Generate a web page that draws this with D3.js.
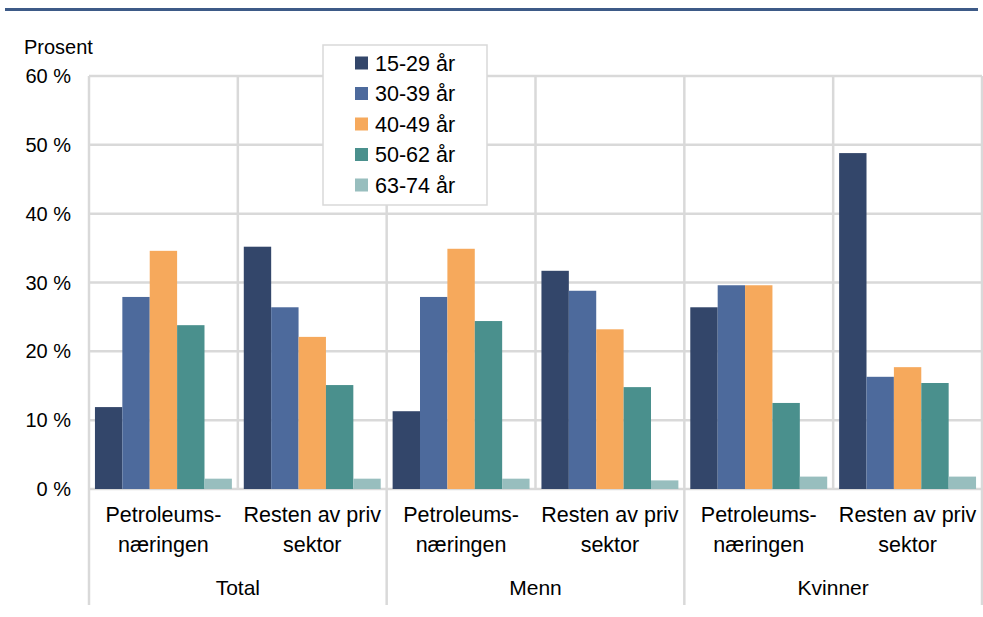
<!DOCTYPE html>
<html>
<head>
<meta charset="utf-8">
<script src="https://cdn.jsdelivr.net/npm/d3@7"></script>
<style>
  html, body { margin: 0; padding: 0; background: #fff; }
  svg { display: block; font-family: "Liberation Sans", Arial, sans-serif; }
</style>
</head>
<body>
<svg id="chart" width="983" height="617"></svg>
<script>
// ---- data ----
const groups = ["Total", "Menn", "Kvinner"];
const subCategories = ["Petroleums-næringen", "Resten av priv sektor"];
const subLabelLines = [["Petroleums-", "næringen"], ["Resten av priv", "sektor"]];
const series = ["15-29 år", "30-39 år", "40-49 år", "50-62 år", "63-74 år"];
const colors = ["#33466a", "#4d6a9c", "#f6a95c", "#4a908d", "#98bebe"];
// values per series, in category order: Total-Petro, Total-Resten, Menn-Petro, Menn-Resten, Kvinner-Petro, Kvinner-Resten
const v15_29 = [11.9, 35.2, 11.3, 31.7, 26.4, 48.8];
const v30_39 = [27.9, 26.4, 27.9, 28.8, 29.6, 16.3];
const v40_49 = [34.6, 22.1, 34.9, 23.2, 29.6, 17.7];
const v50_62 = [23.8, 15.1, 24.4, 14.8, 12.5, 15.4];
const v63_74 = [1.5, 1.5, 1.5, 1.25, 1.8, 1.8];
const yTicks = [0, 10, 20, 30, 40, 50, 60];
const yLabel = "Prosent";

(function () {
const valuesBySeries = [v15_29, v30_39, v40_49, v50_62, v63_74];
const categories = [];
groups.forEach(g => subCategories.forEach(s => categories.push(g + "|" + s)));

// ---- layout ----
const svg = d3.select("#chart");
const pLeft = 89, pRight = 982, pTop = 76, pBottom = 489;
const gridColor = "#d9d9d9";

svg.append("rect").attr("x", 5).attr("y", 8).attr("width", 973).attr("height", 3).attr("fill", "#3d5a87");

const x0 = d3.scaleBand().domain(categories).range([pLeft, pRight]).paddingInner(0).paddingOuter(0);
const bw = x0.bandwidth();
const x1 = d3.scaleBand().domain(series).range([bw * 0.04, bw * 0.96]).padding(0);
const y = d3.scaleLinear().domain([0, 60]).range([pBottom, pTop]);

// horizontal gridlines
svg.append("g").selectAll("line").data(yTicks).join("line")
  .attr("x1", pLeft).attr("x2", pRight)
  .attr("y1", d => y(d)).attr("y2", d => y(d))
  .attr("stroke", gridColor).attr("stroke-width", 2.5);

// vertical gridlines at category boundaries
const boundaries = categories.map(c => x0(c)).concat([pRight]);
svg.append("g").selectAll("line").data(boundaries).join("line")
  .attr("x1", d => d).attr("x2", d => d)
  .attr("y1", pTop).attr("y2", (d, i) => (i % 2 === 0) ? 605 : pBottom)
  .attr("stroke", gridColor).attr("stroke-width", 2.5);

// bars
const barG = svg.append("g");
series.forEach((s, si) => {
  barG.append("g").selectAll("rect").data(valuesBySeries[si]).join("rect")
    .attr("x", (d, i) => x0(categories[i]) + x1(s))
    .attr("width", x1.bandwidth())
    .attr("y", d => y(d))
    .attr("height", d => y(0) - y(d))
    .attr("fill", colors[si]);
});

// y axis labels
svg.append("g").selectAll("text").data(yTicks).join("text")
  .attr("x", 71).attr("y", d => y(d) + 7)
  .attr("text-anchor", "end").attr("font-size", 20).attr("fill", "#000")
  .text(d => d + " %");
svg.append("text").attr("x", 24).attr("y", 54).attr("font-size", 20).attr("fill", "#000").text(yLabel);

// sub category labels
categories.forEach((c, i) => {
  const lines = subLabelLines[i % 2];
  const cx = x0(c) + bw / 2;
  lines.forEach((ln, li) => {
    svg.append("text").attr("x", cx).attr("y", 522 + li * 30)
      .attr("text-anchor", "middle").attr("font-size", 21.5).attr("fill", "#000").text(ln);
  });
});
// group labels
groups.forEach((g) => {
  const cx = (x0(g + "|" + subCategories[0]) + x0(g + "|" + subCategories[1]) + bw) / 2;
  svg.append("text").attr("x", cx).attr("y", 595)
    .attr("text-anchor", "middle").attr("font-size", 21).attr("fill", "#000").text(g);
});

// legend
const lg = svg.append("g");
lg.append("rect").attr("x", 323).attr("y", 45).attr("width", 164).attr("height", 160)
  .attr("fill", "#fff").attr("stroke", gridColor).attr("stroke-width", 1.5);
series.forEach((s, i) => {
  const cy = 63 + i * 30.5;
  lg.append("rect").attr("x", 355).attr("y", cy - 6.5).attr("width", 13).attr("height", 13).attr("fill", colors[i]);
  lg.append("text").attr("x", 375).attr("y", cy + 7.5).attr("font-size", 21.5).attr("fill", "#000").text(s);
});
})();
</script>
</body>
</html>
